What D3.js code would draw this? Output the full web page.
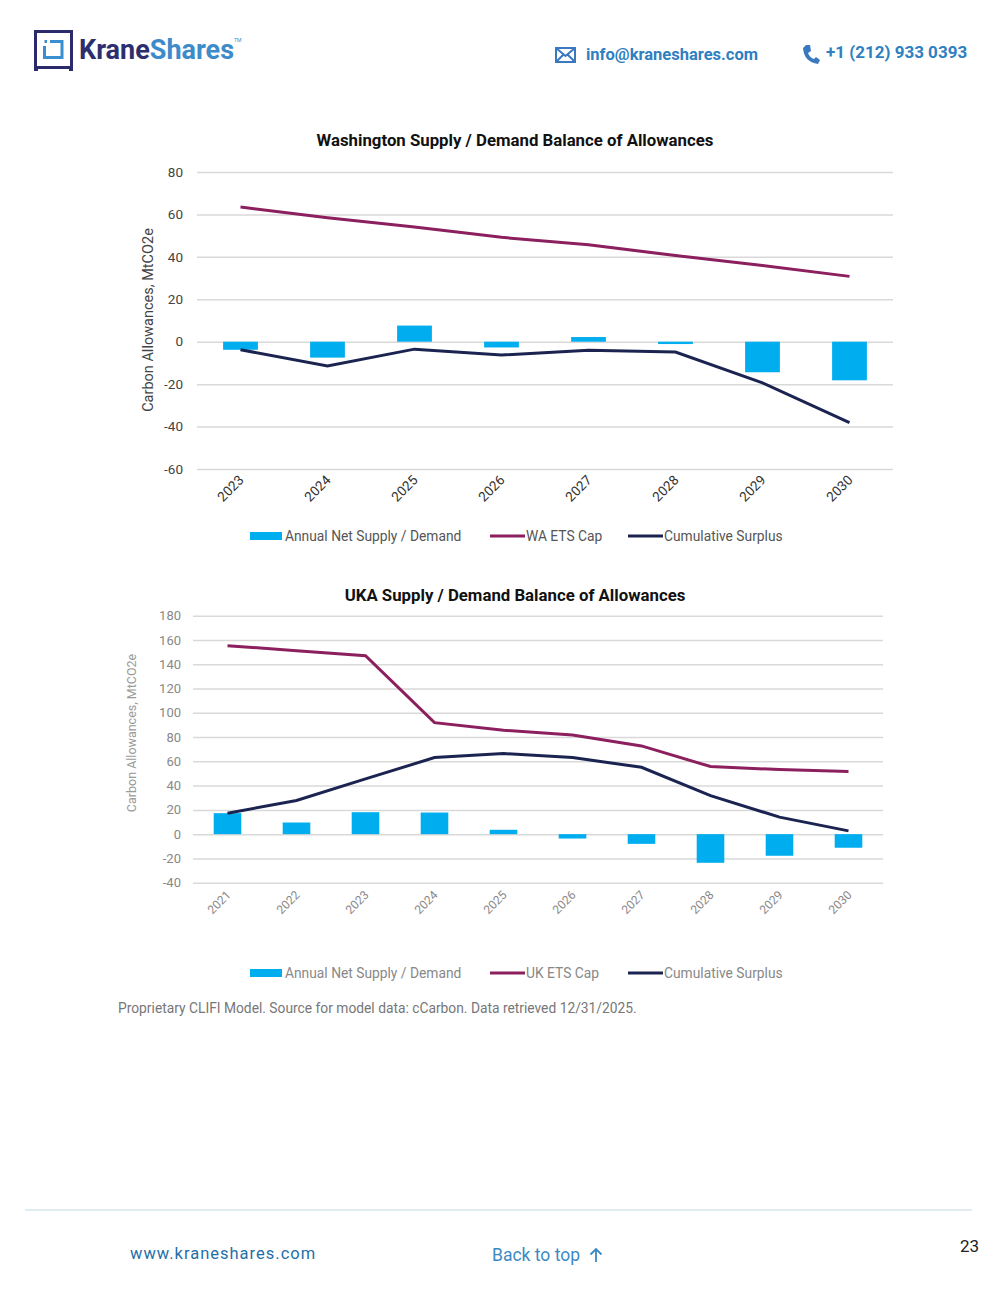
<!DOCTYPE html>
<head>
  <title>Supply / Demand Balance of Allowances</title>
  <meta charset="utf-8">
  <script src="https://cdn.jsdelivr.net/npm/d3@7"></script>
  <style>
    body { margin: 0; background: #fff; }
    svg text { font-family: Roboto, "Open Sans", sans-serif; }
    .grid line { stroke: #d9d9d9; stroke-width: 1.5; }
    .grid path { display: none; }
  </style>
</head>
<body>
<div class="container"></div>
<script>
'use strict';
var width = 1000;
var height = 1293;

// Washington chart data (MtCO2e)
var waYears = ['2023', '2024', '2025', '2026', '2027', '2028', '2029', '2030'];
var waNet = [-3.8, -7.5, 7.6, -2.7, 2.2, -1.1, -14.4, -18.2];
var waCap = [63.5, 58.4, 54.1, 49.2, 45.7, 40.6, 35.9, 30.8];
var waCum = [-3.8, -11.4, -3.5, -6.3, -4.0, -4.9, -19.4, -38.1];
var waTicks = [80, 60, 40, 20, 0, -20, -40, -60];

// UKA chart data (MtCO2e)
var ukYears = ['2021', '2022', '2023', '2024', '2025', '2026', '2027', '2028', '2029', '2030'];
var ukNet = [17.3, 9.6, 18.1, 17.8, 3.6, -3.6, -8.0, -23.6, -17.8, -11.2];
var ukCap = [155.3, 151.2, 147.1, 91.9, 85.6, 81.7, 72.7, 55.7, 53.2, 51.6];
var ukCum = [17.3, 27.7, 45.5, 63.1, 66.4, 63.1, 55.1, 31.8, 14.0, 2.7];
var ukTicks = [180, 160, 140, 120, 100, 80, 60, 40, 20, 0, -20, -40];

var barColor = '#00aeef';
var capColor = '#8c1f5e';
var cumColor = '#1b2451';

var svg = d3.select('.container')
  .append('svg')
  .attr('width', width)
  .attr('height', height);

// ---- header ----
var logo = svg.append('g');
logo.append('rect').attr('x', 35.5).attr('y', 31.5).attr('width', 36).attr('height', 36)
  .attr('fill', 'none').attr('stroke', '#2b2a6b').attr('stroke-width', 3);
logo.append('rect').attr('x', 34).attr('y', 66).attr('width', 4).attr('height', 5).attr('fill', '#2b2a6b');
logo.append('rect').attr('x', 69).attr('y', 66).attr('width', 4).attr('height', 5).attr('fill', '#2b2a6b');
logo.append('path')
  .attr('d', 'M50 41.5 H62 V57.5 H44.5 V46 M44.5 41.5 H47')
  .attr('fill', 'none').attr('stroke', '#3a8fd0').attr('stroke-width', 3);

var brand = svg.append('text').attr('x', 79).attr('y', 59)
  .style('font-size', '27px').style('font-weight', 700);
brand.append('tspan').attr('fill', '#2d2e6e').text('Krane');
brand.append('tspan').attr('fill', '#3d8cc9').text('Shares');
svg.append('text').attr('x', 234).attr('y', 42).attr('fill', '#3d8cc9')
  .style('font-size', '5px').text('TM');

// envelope icon
var env = svg.append('g').attr('fill', 'none').attr('stroke', '#3a78c0').attr('stroke-width', 2);
env.append('rect').attr('x', 556).attr('y', 48).attr('width', 19).attr('height', 14);
env.append('path').attr('d', 'M556 48 L565.5 56 L575 48 M556 62 L563 55 M575 62 L568 55');
svg.append('text').attr('x', 586).attr('y', 60).attr('fill', '#2f7fc1')
  .style('font-size', '16.5px').style('font-weight', 700).text('info@kraneshares.com');

// phone icon
svg.append('path')
  .attr('d', 'M806 45 L810 45 L811 51 L808 53 Q810 58 814 59 L816 57 L820 60 L818 64 Q804 62 803 48 Z')
  .attr('fill', '#3a78c0');
svg.append('text').attr('x', 826).attr('y', 58).attr('fill', '#2f7fc1')
  .style('font-size', '17px').style('font-weight', 700).text('+1 (212) 933 0393');

// ---- chart builder ----
function drawChart(cfg) {
  var g = svg.append('g');

  var x = d3.scaleBand()
    .domain(cfg.years)
    .range([cfg.left, cfg.right])
    .paddingInner(0.6)
    .paddingOuter(0.3);

  var y = d3.scaleLinear()
    .domain([cfg.ticks[cfg.ticks.length - 1], cfg.ticks[0]])
    .range([cfg.bottom, cfg.top]);

  // gridlines
  g.append('g')
    .attr('class', 'grid')
    .attr('transform', 'translate(' + cfg.left + ',0)')
    .call(d3.axisLeft(y).tickValues(cfg.ticks).tickSize(-(cfg.right - cfg.left)).tickFormat(''));

  // y tick labels
  g.selectAll('text.ytick')
    .data(cfg.ticks)
    .enter().append('text')
    .attr('class', 'ytick')
    .attr('x', cfg.left - cfg.tickGap)
    .attr('y', function (d) { return y(d); })
    .attr('dy', '0.35em')
    .attr('text-anchor', 'end')
    .attr('fill', cfg.tickColor)
    .style('font-size', cfg.tickSize + 'px')
    .text(function (d) { return d; });

  // y-axis title
  g.append('text')
    .attr('transform', 'translate(' + cfg.yTitleX + ',' + cfg.yTitleY + ') rotate(-90)')
    .attr('text-anchor', 'middle')
    .attr('fill', cfg.yTitleColor)
    .style('font-size', cfg.yTitleSize + 'px')
    .text('Carbon Allowances, MtCO2e');

  // bars
  g.selectAll('rect.bar')
    .data(cfg.net)
    .enter().append('rect')
    .attr('class', 'bar')
    .attr('x', function (d, i) { return x(cfg.years[i]); })
    .attr('width', x.bandwidth())
    .attr('y', function (d) { return y(Math.max(0, d)); })
    .attr('height', function (d) { return Math.abs(y(d) - y(0)); })
    .attr('fill', barColor);

  var line = d3.line()
    .x(function (d, i) { return x(cfg.years[i]) + x.bandwidth() / 2; })
    .y(function (d) { return y(d); });

  g.append('path').datum(cfg.cap)
    .attr('d', line).attr('fill', 'none')
    .attr('stroke', capColor).attr('stroke-width', 3);

  g.append('path').datum(cfg.cum)
    .attr('d', line).attr('fill', 'none')
    .attr('stroke', cumColor).attr('stroke-width', 3);

  // x labels, rotated
  g.selectAll('text.xlab')
    .data(cfg.years)
    .enter().append('text')
    .attr('class', 'xlab')
    .attr('transform', function (d) {
      return 'translate(' + (x(d) + x.bandwidth() / 2 + 4) + ',' + (cfg.bottom + cfg.xLabGap) + ') rotate(-45)';
    })
    .attr('text-anchor', 'end')
    .attr('fill', cfg.xColor)
    .style('font-size', cfg.xSize + 'px')
    .text(function (d) { return d; });

  // title
  g.append('text')
    .attr('x', cfg.titleX)
    .attr('y', cfg.titleY)
    .attr('text-anchor', 'middle')
    .attr('fill', '#111')
    .style('font-size', '16.8px')
    .style('font-weight', 700)
    .text(cfg.title);

  // legend
  var lg = g.append('g').attr('transform', 'translate(0,' + cfg.legendY + ')');
  lg.append('rect').attr('x', 250).attr('y', -4).attr('width', 32).attr('height', 8).attr('fill', barColor);
  lg.append('line').attr('x1', 490).attr('x2', 525).attr('stroke', capColor).attr('stroke-width', 3);
  lg.append('line').attr('x1', 628).attr('x2', 663).attr('stroke', cumColor).attr('stroke-width', 3);
  var items = [[285, 'Annual Net Supply / Demand'], [526, cfg.capLabel], [664, 'Cumulative Surplus']];
  lg.selectAll('text')
    .data(items)
    .enter().append('text')
    .attr('x', function (d) { return d[0]; })
    .attr('dy', '0.35em')
    .attr('fill', cfg.legendColor)
    .style('font-size', '13.8px')
    .text(function (d) { return d[1]; });
}

drawChart({
  title: 'Washington Supply / Demand Balance of Allowances',
  titleX: 515, titleY: 146,
  years: waYears, net: waNet, cap: waCap, cum: waCum, ticks: waTicks,
  left: 197, right: 893, top: 172, bottom: 469,
  tickGap: 14, tickColor: '#444', tickSize: 13.5,
  yTitleX: 153, yTitleY: 320, yTitleColor: '#444', yTitleSize: 14.5,
  xLabGap: 12, xColor: '#333', xSize: 13.5,
  legendY: 536, legendColor: '#555', capLabel: 'WA ETS Cap'
});

drawChart({
  title: 'UKA Supply / Demand Balance of Allowances',
  titleX: 515, titleY: 601,
  years: ukYears, net: ukNet, cap: ukCap, cum: ukCum, ticks: ukTicks,
  left: 193, right: 883, top: 615.7, bottom: 882.7,
  tickGap: 12, tickColor: '#888', tickSize: 13,
  yTitleX: 136, yTitleY: 733, yTitleColor: '#999', yTitleSize: 12.5,
  xLabGap: 13, xColor: '#888', xSize: 12,
  legendY: 973, legendColor: '#888', capLabel: 'UK ETS Cap'
});

// source note
svg.append('text').attr('x', 118).attr('y', 1013).attr('fill', '#777')
  .style('font-size', '13.8px')
  .text('Proprietary CLIFI Model. Source for model data: cCarbon. Data retrieved 12/31/2025.');

// ---- footer ----
svg.append('line').attr('x1', 25).attr('x2', 972).attr('y1', 1210).attr('y2', 1210)
  .attr('stroke', '#d6e5ee').attr('stroke-width', 1.5);
svg.append('text').attr('x', 130).attr('y', 1259).attr('fill', '#1f6fa7')
  .style('font-size', '16.5px').style('letter-spacing', '1px').text('www.kraneshares.com');
svg.append('text').attr('x', 492).attr('y', 1261).attr('fill', '#3b8ac4')
  .style('font-size', '17.5px').text('Back to top');
svg.append('path').attr('d', 'M596 1262 V1249 M590.5 1254.5 L596 1249 L601.5 1254.5')
  .attr('fill', 'none').attr('stroke', '#3b8ac4').attr('stroke-width', 1.8);
svg.append('text').attr('x', 979).attr('y', 1252).attr('text-anchor', 'end').attr('fill', '#222')
  .style('font-size', '17px').text('23');
</script>
</body>
